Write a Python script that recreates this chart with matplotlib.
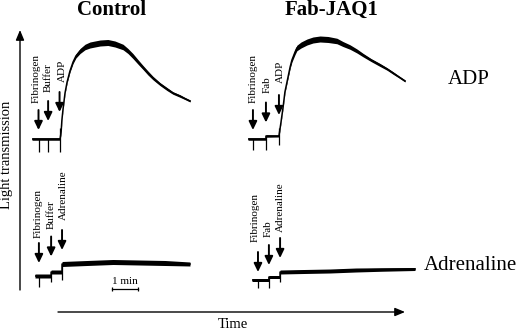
"""
Platelet aggregation traces (light transmission vs time), Control vs Fab-JAQ1,
stimulated with ADP or adrenaline.
"""
import numpy as np
import matplotlib.pyplot as plt

plt.rcParams['font.family'] = ['Liberation Serif', 'DejaVu Serif']

W, H = 520, 332          # figure size in px
PX_MIN = 26.0            # px per minute on the time axis
ARROW_LEN = 20           # length of the addition arrows (transmission units)

#-------------------------------------------
# Data (time in min, transmission in arbitrary %)
#-------------------------------------------
# Control + ADP
ctrl_adp_t = [0.0, 1.08, 1.12, 1.15, 1.19, 1.27, 1.35, 1.46, 1.58, 1.69, 1.85, 2.04, 2.23,
              2.42, 2.62, 2.92, 3.19, 3.5, 3.69, 3.88, 4.08, 4.27, 4.46, 4.65, 4.92,
              5.19, 5.42, 5.69, 5.88, 6.08]
ctrl_adp_T = [0, 0, 7, 19, 29, 46, 57, 68, 77, 83, 88, 92, 94,
              95, 96, 96.5, 95, 92, 88, 83, 77, 71.5, 66, 61, 55,
              50, 46, 43, 40.5, 38]
ctrl_adp_w = [2.5, 2.5, 1.5, 1.5, 1.5, 1.5, 2, 2.5, 3, 4, 5, 5.5, 6,
              6, 6, 6, 6, 5.5, 5, 5, 4.5, 4, 4, 3.5, 3,
              3, 2.5, 2.5, 2, 2]
ctrl_adp_events = ['Fibrinogen', 'Buffer', 'ADP']
ctrl_adp_ev_t = [0.25, 0.62, 1.06]
ctrl_adp_lab_dx = [-2.5, 0, 2.5]
ctrl_adp_spike_lo = [-13, -13, -13]
ctrl_adp_spike_hi = [0, 0, 11]

# Fab-JAQ1 + ADP
fab_adp_t = [0.0, 0.69, 0.69, 1.19, 1.27, 1.35, 1.42, 1.54, 1.62, 1.69, 1.81, 1.88, 2.04,
             2.27, 2.5, 2.77, 3.08, 3.42, 3.65, 3.92, 4.19, 4.42, 4.73, 5.08, 5.35,
             5.58, 5.81, 6.04]
fab_adp_T = [0, 0, 3, 3, 17, 32, 47, 62, 72, 79, 87, 91, 94,
             97, 99, 100, 99.5, 98, 95, 92, 88, 84, 79, 74, 70,
             66, 62, 58]
fab_adp_w = [2.5, 2.5, 2.5, 2, 1.5, 1.5, 2, 2.5, 3, 4, 5, 5.5, 6,
             6, 6, 6, 6, 5.5, 5, 4.5, 4, 3.5, 3, 3, 2.5,
             2.5, 2, 2]
fab_adp_events = ['Fibrinogen', 'Fab', 'ADP']
fab_adp_ev_t = [0.19, 0.69, 1.19]
fab_adp_lab_dx = [0, 1, 1]
fab_adp_spike_lo = [-11, -11, -6]
fab_adp_spike_hi = [0, 3, 11]

# Control + adrenaline
ctrl_adr_t = [0.0, 0.62, 0.62, 1.04, 1.04, 2.0, 3.0, 4.0, 5.0, 5.96]
ctrl_adr_T = [0, 0, 4, 4, 12, 13, 14, 13.5, 13, 12]
ctrl_adr_w = [4, 4, 4, 4, 5, 5, 5, 5, 5, 4]
ctrl_adr_events = ['Fibrinogen', 'Buffer', 'Adrenaline']
ctrl_adr_ev_t = [0.15, 0.62, 1.04]
ctrl_adr_lab_dx = [-1, 0, 1]
ctrl_adr_spike_lo = [-11, -6, -4]
ctrl_adr_spike_hi = [0, 4, 12]

# Fab-JAQ1 + adrenaline
fab_adr_t = [0.0, 0.65, 0.65, 1.08, 1.08, 2.0, 3.0, 4.0, 5.0, 6.27]
fab_adr_T = [0, 0, 3, 3, 8, 8.5, 9, 10, 10.5, 11]
fab_adr_w = [3, 3, 3, 3, 4, 4, 4, 4, 3.5, 3]
fab_adr_events = ['Fibrinogen', 'Fab', 'Adrenaline']
fab_adr_ev_t = [0.23, 0.65, 1.08]
fab_adr_lab_dx = [-3, -1, 0]
fab_adr_spike_lo = [-8, -8, -2]
fab_adr_spike_hi = [0, 3, 8]

SCALE_BAR_MIN = 1.0


def trace_axes(fig, x0, y0, tlim, Tlim):
    """Axes whose origin (t=0, T=0) sits at pixel (x0, y0) from top-left."""
    left = (x0 + tlim[0] * PX_MIN) / W
    width = (tlim[1] - tlim[0]) * PX_MIN / W
    bottom = 1 - (y0 - Tlim[0]) / H
    height = (Tlim[1] - Tlim[0]) / H
    ax = fig.add_axes([left, bottom, width, height])
    ax.set_xlim(*tlim)
    ax.set_ylim(*Tlim)
    ax.axis('off')
    return ax


def draw_trace(ax, t, T, w, events, ev_t, lab_dx, spike_lo, spike_hi,
               tip0, tip_step, lab0, lab_step):
    t = np.asarray(t, float)
    T = np.asarray(T, float)
    w = np.asarray(w, float)
    ax.fill_between(t, T - w / 2, T + w / 2, color='k', lw=0)
    ax.plot(t, T, color='k', lw=1.1, solid_joinstyle='round')
    ax.vlines(ev_t, spike_lo, spike_hi, color='k', lw=0.9)
    for i, (name, te) in enumerate(zip(events, ev_t)):
        tip = tip0 + tip_step * i
        ax.annotate('', xy=(te, tip), xytext=(te, tip + ARROW_LEN),
                    arrowprops=dict(arrowstyle='-|>,head_length=0.5,head_width=0.24',
                                    color='k', lw=1.4, shrinkA=0, shrinkB=0))
        ax.text(te + lab_dx[i] / PX_MIN, lab0 + lab_step * i, name, rotation=90,
                ha='center', va='bottom', fontsize=8)


fig = plt.figure(figsize=(W / 100, H / 100), dpi=100)

# background layout axes in pixel units
bg = fig.add_axes([0, 0, 1, 1])
bg.set_xlim(0, W)
bg.set_ylim(H, 0)
bg.axis('off')

head = dict(arrowstyle='-|>,head_length=0.6,head_width=0.25', color='k',
            lw=1.0, shrinkA=0, shrinkB=0)
bg.annotate('', xy=(20, 30), xytext=(20, 290), arrowprops=head)
bg.annotate('', xy=(405, 312), xytext=(58, 312), arrowprops=head)

bg.text(112, 10, 'Control', ha='center', va='center', fontsize=15, fontweight='bold')
bg.text(332, 10, 'Fab-JAQ1', ha='center', va='center', fontsize=15, fontweight='bold')
bg.text(469, 80, 'ADP', ha='center', va='center', fontsize=15)
bg.text(470, 266, 'Adrenaline', ha='center', va='center', fontsize=15)
bg.text(233, 325, 'Time', ha='center', va='center', fontsize=10.5)
bg.text(7, 155, 'Light transmission', ha='center', va='center', fontsize=10.5,
        rotation=90)

ax1 = trace_axes(fig, 32, 139, (0, 6.5), (-30, 110))
draw_trace(ax1, ctrl_adp_t, ctrl_adp_T, ctrl_adp_w, ctrl_adp_events, ctrl_adp_ev_t,
           ctrl_adp_lab_dx, ctrl_adp_spike_lo, ctrl_adp_spike_hi, 9, 9, 36, 10.5)

ax2 = trace_axes(fig, 248, 139, (0, 6.5), (-30, 110))
draw_trace(ax2, fab_adp_t, fab_adp_T, fab_adp_w, fab_adp_events, fab_adp_ev_t,
           fab_adp_lab_dx, fab_adp_spike_lo, fab_adp_spike_hi, 9, 7.5, 36, 10)

ax3 = trace_axes(fig, 35, 276, (0, 6.5), (-30, 60))
draw_trace(ax3, ctrl_adr_t, ctrl_adr_T, ctrl_adr_w, ctrl_adr_events, ctrl_adr_ev_t,
           ctrl_adr_lab_dx, ctrl_adr_spike_lo, ctrl_adr_spike_hi, 13, 6.5, 38, 9)

ax4 = trace_axes(fig, 252, 280, (0, 6.5), (-30, 60))
draw_trace(ax4, fab_adr_t, fab_adr_T, fab_adr_w, fab_adr_events, fab_adr_ev_t,
           fab_adr_lab_dx, fab_adr_spike_lo, fab_adr_spike_hi, 8, 7, 38, 5)

# 1 min scale bar under the control adrenaline trace
sb0 = 2.96
ax3.plot([sb0, sb0 + SCALE_BAR_MIN], [-13, -13], color='k', lw=0.9)
ax3.vlines([sb0, sb0 + SCALE_BAR_MIN], -15, -11, color='k', lw=0.9)
ax3.text(sb0 + SCALE_BAR_MIN / 2, -10.5, '1 min', ha='center', va='bottom', fontsize=8)

fig.savefig('out.png', dpi=100)
